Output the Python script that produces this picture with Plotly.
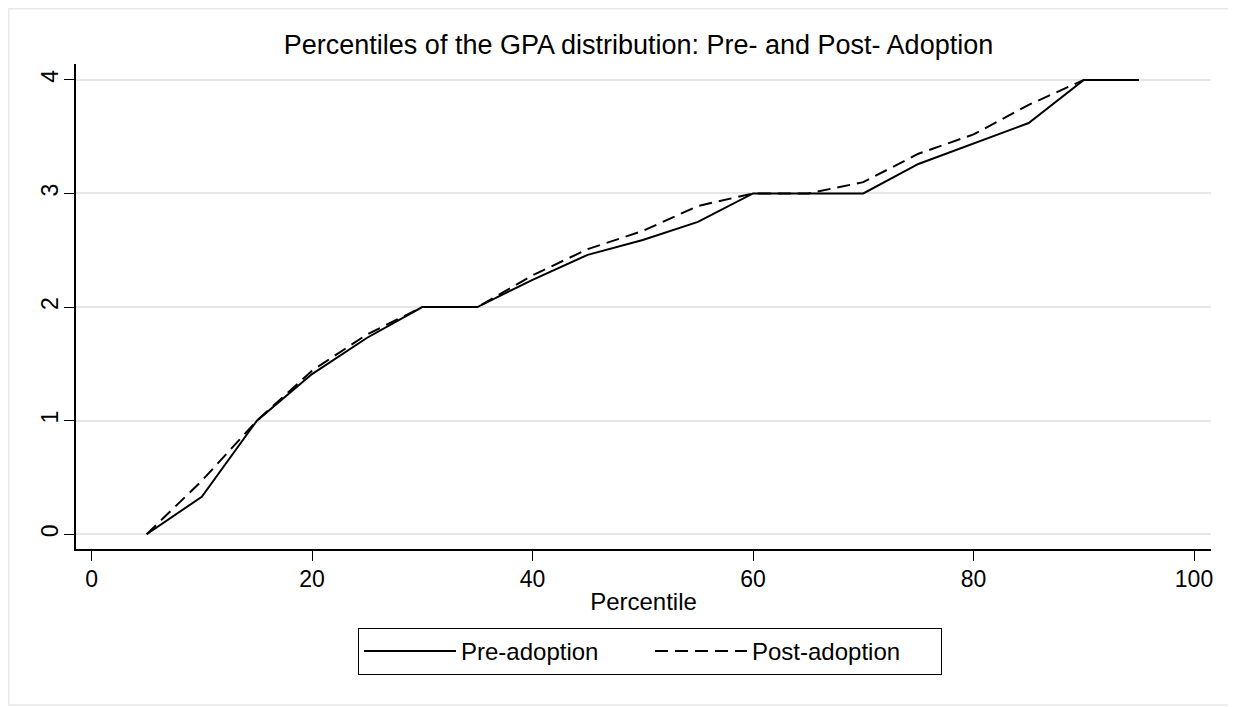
import plotly.graph_objects as go

percentile = [5, 10, 15, 20, 25, 30, 35, 40, 45, 50, 55, 60, 65, 70, 75, 80, 85, 90, 95]
pre_adoption = [0.0, 0.33, 1.0, 1.41, 1.73, 2.0, 2.0, 2.24, 2.46, 2.59, 2.75, 3.0, 3.0, 3.0, 3.26, 3.44, 3.62, 4.0, 4.0]
post_adoption = [0.0, 0.47, 1.0, 1.44, 1.76, 2.0, 2.0, 2.28, 2.51, 2.67, 2.89, 3.0, 3.0, 3.1, 3.35, 3.52, 3.78, 4.0, 4.0]
x_ticks = [0, 20, 40, 60, 80, 100]
y_ticks = [0, 1, 2, 3, 4]
series_names = ["Pre-adoption", "Post-adoption"]
title_text = "Percentiles of the GPA distribution: Pre- and Post- Adoption"
x_title = "Percentile"

FONT = "Liberation Sans, Arial, sans-serif"

fig = go.Figure()
fig.add_trace(go.Scatter(x=percentile, y=pre_adoption, mode="lines", name=series_names[0],
                         line=dict(color="black", width=2)))
fig.add_trace(go.Scatter(x=percentile, y=post_adoption, mode="lines", name=series_names[1],
                         line=dict(color="black", width=2, dash="13px,7px")))

# page body has an 8px margin; the figure starts at (8, 8) in the window
OFF = 8
W, H = 1236 - OFF, 707 - OFF
L, R, T = 76 - OFF, 25, 64 - OFF
pw, ph = 1135, 485
B = H - T - ph

def px2paper_x(p):
    return (p - OFF - L) / pw

def px2paper_y(p):
    return (OFF + T + ph - p) / ph

fig.update_layout(
    width=W, height=H,
    margin=dict(l=L, r=R, t=T, b=B, autoexpand=False),
    paper_bgcolor="white", plot_bgcolor="white",
    font=dict(family=FONT, color="black", size=23),
    title=dict(text=title_text, font=dict(size=27, color="black", family=FONT),
               x=px2paper_x(638.5), xref="paper", xanchor="center",
               y=1 - (45 - OFF) / H, yref="container", yanchor="middle"),
    showlegend=True,
    legend=dict(orientation="h", x=px2paper_x(358), xanchor="left",
                y=px2paper_y(628), yanchor="top",
                bordercolor="black", borderwidth=1,
                font=dict(size=24, family=FONT, color="black"),
                itemwidth=92, entrywidth=184, bgcolor="white"),
    shapes=[dict(type="rect", xref="paper", yref="paper",
                 x0=px2paper_x(8.75), x1=px2paper_x(1234.5),
                 y0=px2paper_y(705), y1=px2paper_y(8.75),
                 line=dict(color="#e8e8e8", width=1.5), fillcolor="rgba(0,0,0,0)", layer="below")],
)

fig.update_xaxes(range=[-1.41, 101.54], tickvals=x_ticks, ticktext=[str(v) for v in x_ticks],
                 showline=True, linecolor="black", linewidth=1.5, mirror=False,
                 ticks="outside", ticklen=10, tickwidth=1, tickcolor="black",
                 showgrid=False, zeroline=False,
                 tickfont=dict(size=23, family=FONT, color="black"),
                 ticklabelstandoff=-1,
                 title=dict(text=x_title, font=dict(size=24, family=FONT, color="black"), standoff=2))
fig.update_yaxes(range=[-0.13, 4.14], tickvals=y_ticks, ticktext=[str(v) for v in y_ticks],
                 showline=True, linecolor="black", linewidth=1.5, mirror=False,
                 ticks="outside", ticklen=10, tickwidth=1, tickcolor="black",
                 showgrid=True, gridcolor="#e6e6e6", gridwidth=2, zeroline=False,
                 tickangle=-90,
                 tickfont=dict(size=23, family=FONT, color="black"),
                 ticklabelstandoff=-3)

fig.write_html("out.html")
